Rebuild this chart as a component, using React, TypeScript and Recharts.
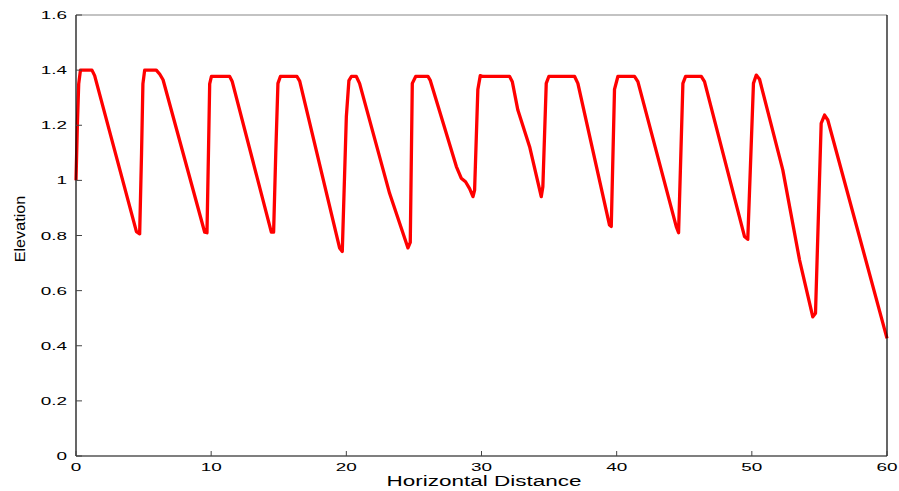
import React from 'react';
import { LineChart, Line, XAxis, YAxis } from 'recharts';

const distance = [
  0, 0.1, 0.2, 0.33, 1.18, 1.38, 4.47, 4.71,
  4.85, 4.95, 5.08, 5.94, 6.2, 6.44, 9.52, 9.69,
  9.8, 9.89, 10.02, 11.37, 11.55, 14.45, 14.62,
  14.78, 14.94, 15.12, 16.35, 16.55, 19.5, 19.7,
  20.0, 20.19, 20.37, 20.74, 20.98, 23.2, 24.56, 24.73,
  24.88, 25.13, 26.04, 26.2, 28.14, 28.5, 28.82, 29.12, 29.37, 29.49,
  29.73, 29.91, 30.1, 32.08, 32.28, 32.69, 33.56, 34.42, 34.54,
  34.79, 34.98, 36.89, 37.13, 39.47, 39.6,
  39.84, 40.09, 41.32, 41.57, 44.41, 44.58,
  44.9, 45.1, 46.26, 46.5, 49.46, 49.7,
  50.12, 50.33, 50.57, 52.29, 53.53, 54.51, 54.71,
  55.13, 55.38, 55.62, 60,
];

const elevation = [
  1.0, 1.2, 1.35, 1.4, 1.4, 1.38, 0.814, 0.806,
  1.1, 1.35, 1.4, 1.4, 1.385, 1.365, 0.812, 0.81,
  1.1, 1.35, 1.377, 1.377, 1.36, 0.812, 0.812,
  1.1, 1.352, 1.377, 1.377, 1.36, 0.755, 0.742,
  1.23, 1.362, 1.377, 1.377, 1.352, 0.953, 0.755, 0.775,
  1.352, 1.377, 1.377, 1.364, 1.05, 1.008, 0.995, 0.97, 0.941, 0.965,
  1.33, 1.38, 1.377, 1.377, 1.358, 1.255, 1.122, 0.941, 0.977,
  1.352, 1.377, 1.377, 1.352, 0.838, 0.833,
  1.33, 1.377, 1.377, 1.358, 0.832, 0.81,
  1.352, 1.377, 1.377, 1.358, 0.796, 0.786,
  1.352, 1.382, 1.367, 1.038, 0.711, 0.505, 0.518,
  1.207, 1.237, 1.219, 0.427,
];

const xTicks = [0, 10, 20, 30, 40, 50, 60];
const xTickLabels = ['0', '10', '20', '30', '40', '50', '60'];
const yTicks = [0, 0.2, 0.4, 0.6, 0.8, 1, 1.2, 1.4, 1.6];
const yTickLabels = ['0', '0.2', '0.4', '0.6', '0.8', '1', '1.2', '1.4', '1.6'];

const xTitle = 'Horizontal Distance';
const yTitle = 'Elevation';

const data = distance.map((d, i) => ({ x: d, elev: elevation[i] }));

const FONT = '"Liberation Sans", Arial, Helvetica, sans-serif';

const labelFor = (ticks: number[], labels: string[], v: number) => {
  const i = ticks.findIndex((t) => Math.abs(t - v) < 1e-9);
  return i >= 0 ? labels[i] : String(v);
};

const XTick = (props: any) => {
  const { x, y, payload } = props;
  return (
    <g>
      <line x1={x} x2={x} y1={y} y2={y - 5} stroke="#444" strokeWidth={1} />
      <text
        transform={`translate(${x},${y + 14.7}) scale(1.72,1)`}
        textAnchor="middle"
        fontSize={11}
        fontFamily={FONT}
        fill="#000"
      >
        {labelFor(xTicks, xTickLabels, payload.value)}
      </text>
    </g>
  );
};

const YTick = (props: any) => {
  const { x, y, payload } = props;
  return (
    <g>
      <line x1={x} x2={x + 6} y1={y} y2={y} stroke="#444" strokeWidth={1} />
      <text
        transform={`translate(${x - 9},${y + 4}) scale(1.72,1)`}
        textAnchor="end"
        fontSize={11}
        fontFamily={FONT}
        fill="#000"
      >
        {labelFor(yTicks, yTickLabels, payload.value)}
      </text>
    </g>
  );
};

const RTick = (props: any) => {
  const { x, y } = props;
  return <line x1={x} x2={x - 6} y1={y} y2={y} stroke="#444" strokeWidth={1} />;
};

const W = 899;
const H = 491;
const M = { top: 14, right: 11, bottom: 0, left: 0 };
const Y_AXIS_W = 76;
const X_AXIS_H = 35;
const plotLeft = M.left + Y_AXIS_W;
const plotRight = W - M.right - 1;
const plotTop = M.top + 1;
const plotBottom = H - M.bottom - X_AXIS_H;

export default function App() {
  return (
    <div style={{ position: 'absolute', left: 0, top: 0, width: W, height: H, background: '#fff' }}>
      <LineChart width={W} height={H} data={data} margin={M}>
        <XAxis
          xAxisId="t"
          orientation="top"
          dataKey="x"
          type="number"
          domain={[0, 60]}
          ticks={xTicks}
          height={1}
          axisLine={{ stroke: '#888', strokeWidth: 1.2 }}
          tickLine={false}
          tick={false}
        />
        <XAxis
          dataKey="x"
          type="number"
          domain={[0, 60]}
          ticks={xTicks}
          height={X_AXIS_H}
          axisLine={{ stroke: '#000', strokeWidth: 1.2 }}
          tickLine={false}
          tickSize={0}
          tickMargin={0}
          tick={<XTick />}
          interval={0}
        />
        <YAxis
          type="number"
          domain={[0, 1.6]}
          ticks={yTicks}
          width={Y_AXIS_W}
          axisLine={{ stroke: '#000', strokeWidth: 1.2 }}
          tickLine={false}
          tickSize={0}
          tickMargin={0}
          tick={<YTick />}
          interval={0}
        />
        <YAxis
          yAxisId="r"
          orientation="right"
          type="number"
          domain={[0, 1.6]}
          ticks={yTicks}
          width={1}
          axisLine={{ stroke: '#000', strokeWidth: 1.2 }}
          tickLine={false}
          tickSize={0}
          tickMargin={0}
          tick={<RTick />}
          interval={0}
        />
        <Line
          type="linear"
          dataKey="elev"
          stroke="#ff0000"
          strokeWidth={3.3}
          dot={false}
          activeDot={false}
          strokeLinejoin="round"
          isAnimationActive={false}
        />
      </LineChart>
      <svg
        width={W}
        height={H}
        style={{ position: 'absolute', left: 0, top: 0, pointerEvents: 'none' }}
      >
        <text
          transform={`translate(${(plotLeft + plotRight) / 2 + 2.5},${plotBottom + 29.5}) scale(1.5,1)`}
          textAnchor="middle"
          fontSize={15}
          fontFamily={FONT}
          fill="#000"
        >
          {xTitle}
        </text>
        <text
          transform={`translate(24.5,${(plotTop + plotBottom) / 2 - 6.5}) rotate(-90) scale(1.08,1)`}
          textAnchor="middle"
          fontSize={15}
          fontFamily={FONT}
          fill="#000"
        >
          {yTitle}
        </text>
      </svg>
    </div>
  );
}
